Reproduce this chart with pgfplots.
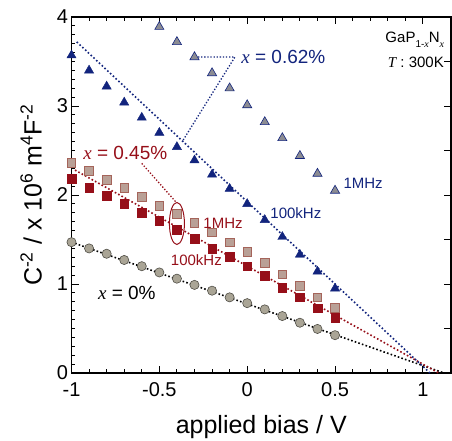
\documentclass[border=0pt]{standalone}
\usepackage{pgfplots}
\pgfplotsset{compat=1.18}
\usepackage{fontspec}
\setmainfont{Liberation Sans}
\newfontfamily\serifit{Liberation Serif}
\newcommand{\vx}{{\serifit\itshape x}}
\definecolor{nav}{RGB}{18,36,125}
\definecolor{dred}{RGB}{150,15,25}
\definecolor{trigray}{RGB}{140,140,146}
\definecolor{sqpink}{RGB}{185,160,150}
\definecolor{sqedge}{RGB}{165,100,90}
\definecolor{circfill}{RGB}{170,165,150}
\definecolor{circedge}{RGB}{80,78,70}
\tikzset{fitdot/.style={dash pattern=on 1.6pt off 2.2pt, line width=1.6pt}}
\begin{document}
\begin{tikzpicture}
\begin{axis}[
  at={(0,0)}, anchor=south west,
  scale only axis, width=379.5pt, height=356pt,
  xmin=-1, xmax=1.16, ymin=0, ymax=4,
  xtick={-1,-0.5,0,0.5,1}, minor x tick num=4,
  ytick={0,1,2,3,4}, minor y tick num=9,
  ytick pos=left,
  tick align=inside, major tick length=7pt, minor tick length=4pt,
  axis line style={line width=1.2pt}, tick style={line width=0.9pt,black},
  ticklabel style={font=\fontsize{20}{20}\selectfont},
  xticklabel style={yshift=-6pt},
  /pgf/number format/assume math mode=true,
  xlabel={applied bias / V},
  ylabel={C\textsuperscript{-2} / x 10\textsuperscript{6} m\textsuperscript{4}F\textsuperscript{-2}},
  label style={font=\fontsize{25}{25}\selectfont},
  xlabel shift=12pt, ylabel shift=8pt,
  clip=false,
]
% fit lines
\addplot[black, fitdot] coordinates {(-1,1.47) (1.12,0)};
\addplot[dred, fitdot] coordinates {(-0.98,2.28) (1.09,0)};
\addplot[nav, fitdot] coordinates {(-0.97,3.72) (1.04,0)};
% x = 0%
\addplot[only marks, mark=*, mark size=4.6pt, mark options={solid, fill=circfill, draw=circedge, line width=0.6pt}] coordinates {
(-1,1.47) (-0.9,1.40) (-0.8,1.34) (-0.7,1.27) (-0.6,1.20) (-0.5,1.13) (-0.4,1.06) (-0.3,0.99)
(-0.2,0.925) (-0.1,0.85) (0,0.785) (0.1,0.715) (0.2,0.64) (0.3,0.565) (0.4,0.495) (0.5,0.425)};
% x = 0.45%, 1MHz
\addplot[only marks, mark=square*, mark size=4.3pt, mark options={solid, fill=sqpink, draw=sqedge, line width=0.6pt}] coordinates {
(-1,2.36) (-0.9,2.27) (-0.8,2.17) (-0.7,2.08) (-0.6,1.98) (-0.5,1.88) (-0.4,1.79) (-0.3,1.69)
(-0.2,1.58) (-0.1,1.47) (0,1.36) (0.1,1.24) (0.2,1.11) (0.3,0.98) (0.4,0.85) (0.5,0.73)};
% x = 0.45%, 100kHz
\addplot[only marks, mark=square*, mark size=4.3pt, mark options={solid, fill=dred, draw=dred}] coordinates {
(-1,2.18) (-0.9,2.08) (-0.8,1.99) (-0.7,1.90) (-0.6,1.80) (-0.5,1.71) (-0.4,1.61) (-0.3,1.51)
(-0.2,1.40) (-0.1,1.31) (0,1.20) (0.1,1.09) (0.2,0.96) (0.3,0.85) (0.4,0.73) (0.5,0.62)};
% x = 0.62%, 1MHz
\addplot[only marks, mark=triangle*, mark size=5.3pt, mark options={solid, fill=trigray, draw=nav, line width=0.6pt}] coordinates {
(-0.5,3.89) (-0.4,3.72) (-0.3,3.55) (-0.2,3.37) (-0.1,3.20) (0,3.01) (0.1,2.82) (0.2,2.64)
(0.3,2.44) (0.4,2.24) (0.5,2.05)};
% x = 0.62%, 100kHz
\addplot[only marks, mark=triangle*, mark size=5.3pt, mark options={solid, fill=nav, draw=nav}] coordinates {
(-1,3.57) (-0.9,3.40) (-0.8,3.22) (-0.7,3.04) (-0.6,2.87) (-0.5,2.70) (-0.4,2.54) (-0.3,2.39)
(-0.2,2.23) (-0.1,2.07) (0,1.90) (0.1,1.72) (0.2,1.53) (0.3,1.33) (0.4,1.14) (0.5,0.95)};
% annotations
\draw[nav, dash pattern=on 1.3pt off 1.8pt, line width=1.3pt] (axis cs:-0.28,3.55) -- (axis cs:-0.07,3.55) -- (axis cs:-0.37,2.60);
\draw[dred, dash pattern=on 1.3pt off 1.8pt, line width=1.3pt] (axis cs:-0.60,2.355) -- (axis cs:-0.405,1.92);
\draw[dred, line width=1pt] (axis cs:-0.40,1.68) ellipse [x radius=7.5pt, y radius=21pt];
\node[anchor=west, text=nav, font=\fontsize{19}{19}\selectfont, inner sep=0pt] at (axis cs:-0.034,3.55) {\vx\ = 0.62\%};
\node[anchor=west, text=dred, font=\fontsize{19}{19}\selectfont, inner sep=0pt] at (axis cs:-0.934,2.47) {\vx\ = 0.45\%};
\node[anchor=west, text=black, font=\fontsize{19}{19}\selectfont, inner sep=0pt] at (axis cs:-0.85,0.90) {\vx\ = 0\%};
\node[anchor=west, text=dred, font=\fontsize{15}{15}\selectfont, inner sep=0pt] at (axis cs:-0.25,1.685) {1MHz};
\node[anchor=west, text=dred, font=\fontsize{15}{15}\selectfont, inner sep=0pt] at (axis cs:-0.435,1.27) {100kHz};
\node[anchor=west, text=nav, font=\fontsize{15}{15}\selectfont, inner sep=0pt] at (axis cs:0.547,2.135) {1MHz};
\node[anchor=west, text=nav, font=\fontsize{15}{15}\selectfont, inner sep=0pt] at (axis cs:0.131,1.80) {100kHz};
\node[anchor=west, font=\fontsize{15}{15}\selectfont, inner sep=0pt] at (axis cs:0.786,3.74) {GaP\raisebox{-5pt}{\fontsize{10}{10}\selectfont 1-\vx}N\raisebox{-5pt}{\fontsize{10}{10}\selectfont \vx}};
\node[anchor=west, font=\fontsize{15}{15}\selectfont, inner sep=0pt] at (axis cs:0.80,3.49) {{\serifit\itshape T} : 300K};
\end{axis}
\begin{axis}[
  at={(0,0)}, anchor=south west,
  scale only axis, width=379.5pt, height=356pt,
  xmin=-1, xmax=1.16, ymin=0, ymax=4,
  hide x axis, axis y line*=right,
  ytick={0,0.5,...,4}, yticklabels={},
  tick align=inside, major tick length=7pt,
  axis line style={line width=1.2pt}, tick style={line width=0.9pt,black},
]
\end{axis}
\pgfresetboundingbox
\path (-71.5pt,-67pt) rectangle (380.5pt,373pt);
\end{tikzpicture}
\end{document}
